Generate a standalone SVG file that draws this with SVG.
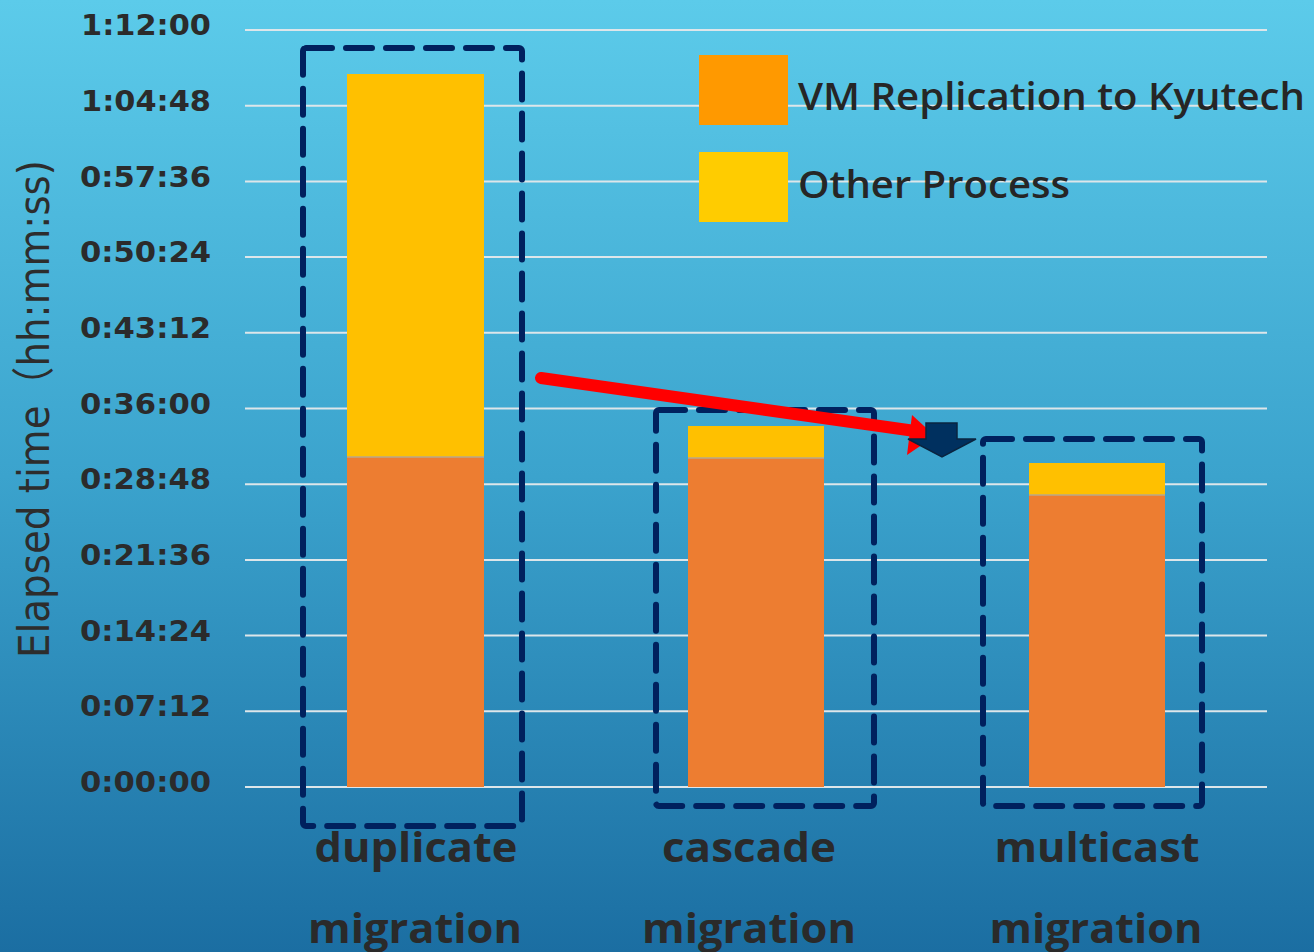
<svg xmlns="http://www.w3.org/2000/svg" width="1314" height="952" viewBox="0 0 1314 952">
  <defs>
    <linearGradient id="bg" x1="0" y1="0" x2="0" y2="1">
      <stop offset="0" stop-color="#5ccbea"/>
      <stop offset="0.5" stop-color="#3ba3cd"/>
      <stop offset="1" stop-color="#1b6ea2"/>
    </linearGradient>
    <style>
      .grid { stroke: #dde6ea; stroke-width: 2; }
      .tick { font-family: "DejaVu Sans", Verdana, sans-serif; font-weight: bold; font-size: 28px; fill: #2b2b2b; text-anchor: end; }
      .cat { font-family: "Open Sans", "DejaVu Sans", Tahoma, sans-serif; font-weight: 700; font-size: 42px; fill: #2a2a2a; text-anchor: middle; }
      .legend { font-family: "Open Sans", "DejaVu Sans", Tahoma, sans-serif; font-weight: 600; font-size: 38px; fill: #262626; }
      .box { fill: none; stroke: #00215e; stroke-width: 6; stroke-dasharray: 26 14; stroke-linecap: round; }
      .replication { fill: #ed7d31; }
      .other { fill: #ffc000; }
      .seam { stroke: #b9a88a; stroke-width: 1.5; }
    </style>
  </defs>

  <rect x="0" y="0" width="1314" height="952" fill="url(#bg)"/>

  <!-- horizontal grid lines -->
  <g id="gridlines">
    <line class="grid" x1="245" y1="30" x2="1267" y2="30"/>
    <line class="grid" x1="245" y1="105.7" x2="1267" y2="105.7"/>
    <line class="grid" x1="245" y1="181.4" x2="1267" y2="181.4"/>
    <line class="grid" x1="245" y1="257.1" x2="1267" y2="257.1"/>
    <line class="grid" x1="245" y1="332.8" x2="1267" y2="332.8"/>
    <line class="grid" x1="245" y1="408.5" x2="1267" y2="408.5"/>
    <line class="grid" x1="245" y1="484.2" x2="1267" y2="484.2"/>
    <line class="grid" x1="245" y1="559.9" x2="1267" y2="559.9"/>
    <line class="grid" x1="245" y1="635.6" x2="1267" y2="635.6"/>
    <line class="grid" x1="245" y1="711.3" x2="1267" y2="711.3"/>
    <line class="grid" x1="245" y1="787" x2="1267" y2="787"/>
  </g>

  <!-- y axis ticks -->
  <g id="y-axis">
    <text class="tick" x="211" y="35" textLength="130" lengthAdjust="spacingAndGlyphs">1:12:00</text>
    <text class="tick" x="211" y="111" textLength="130" lengthAdjust="spacingAndGlyphs">1:04:48</text>
    <text class="tick" x="211" y="187" textLength="131" lengthAdjust="spacingAndGlyphs">0:57:36</text>
    <text class="tick" x="211" y="262" textLength="131" lengthAdjust="spacingAndGlyphs">0:50:24</text>
    <text class="tick" x="211" y="338" textLength="131" lengthAdjust="spacingAndGlyphs">0:43:12</text>
    <text class="tick" x="211" y="414" textLength="131" lengthAdjust="spacingAndGlyphs">0:36:00</text>
    <text class="tick" x="211" y="489" textLength="131" lengthAdjust="spacingAndGlyphs">0:28:48</text>
    <text class="tick" x="211" y="565" textLength="131" lengthAdjust="spacingAndGlyphs">0:21:36</text>
    <text class="tick" x="211" y="641" textLength="131" lengthAdjust="spacingAndGlyphs">0:14:24</text>
    <text class="tick" x="211" y="716" textLength="131" lengthAdjust="spacingAndGlyphs">0:07:12</text>
    <text class="tick" x="211" y="792" textLength="131" lengthAdjust="spacingAndGlyphs">0:00:00</text>
    <text transform="translate(49,409) rotate(-90)" x="0" y="0" text-anchor="middle" textLength="498" lengthAdjust="spacingAndGlyphs" font-family="'DejaVu Sans', 'Noto Sans CJK JP', sans-serif" font-size="43" fill="#2d2d2d">Elapsed time（hh:mm:ss)</text>
  </g>

  <!-- stacked bars -->
  <g id="bar-duplicate">
    <rect class="other" x="347" y="74" width="137" height="383"/>
    <rect class="replication" x="347" y="457" width="137" height="330"/>
    <line class="seam" x1="347" y1="457" x2="484" y2="457"/>
  </g>
  <g id="bar-cascade">
    <rect class="other" x="688" y="426" width="136" height="32"/>
    <rect class="replication" x="688" y="458" width="136" height="329"/>
    <line class="seam" x1="688" y1="458" x2="824" y2="458"/>
  </g>
  <g id="bar-multicast">
    <rect class="other" x="1029" y="463" width="136" height="32"/>
    <rect class="replication" x="1029" y="495" width="136" height="292"/>
    <line class="seam" x1="1029" y1="495" x2="1165" y2="495"/>
  </g>

  <!-- dashed group frames -->
  <g id="frame-duplicate">
    <rect class="box" x="303" y="48" width="219" height="778" rx="3"/>
  </g>
  <g id="frame-cascade">
    <rect class="box" x="656" y="410" width="218" height="396" rx="3"/>
  </g>
  <g id="frame-multicast">
    <rect class="box" x="983" y="439" width="219" height="367" rx="3"/>
  </g>

  <!-- legend -->
  <g id="legend">
    <rect x="699" y="55" width="89" height="70" fill="#ff9900"/>
    <rect x="699" y="152" width="89" height="70" fill="#ffcc00"/>
    <text class="legend" x="798" y="110" textLength="507" lengthAdjust="spacingAndGlyphs">VM Replication to Kyutech</text>
    <text class="legend" x="798" y="198" textLength="272" lengthAdjust="spacingAndGlyphs">Other Process</text>
  </g>

  <!-- category labels -->
  <g id="categories">
    <text class="cat" x="416" y="862" textLength="203" lengthAdjust="spacingAndGlyphs">duplicate</text>
    <text class="cat" x="415" y="943" textLength="214" lengthAdjust="spacingAndGlyphs">migration</text>
    <text class="cat" x="749" y="862" textLength="174" lengthAdjust="spacingAndGlyphs">cascade</text>
    <text class="cat" x="749" y="943" textLength="214" lengthAdjust="spacingAndGlyphs">migration</text>
    <text class="cat" x="1097" y="862" textLength="205" lengthAdjust="spacingAndGlyphs">multicast</text>
    <text class="cat" x="1096" y="943" textLength="213" lengthAdjust="spacingAndGlyphs">migration</text>
  </g>

  <!-- connectors -->
  <g id="connectors">
    <line x1="541" y1="378" x2="915" y2="431" stroke="#ff0000" stroke-width="12" stroke-linecap="round"/>
    <polygon points="912,415 935,436 907,455" fill="#ff0000"/>
    <polygon points="926,423 957,423 957,439 976,439 942,457 908,439 926,439" fill="#00305f" stroke="#0a2440" stroke-width="1.5"/>
  </g>
</svg>
